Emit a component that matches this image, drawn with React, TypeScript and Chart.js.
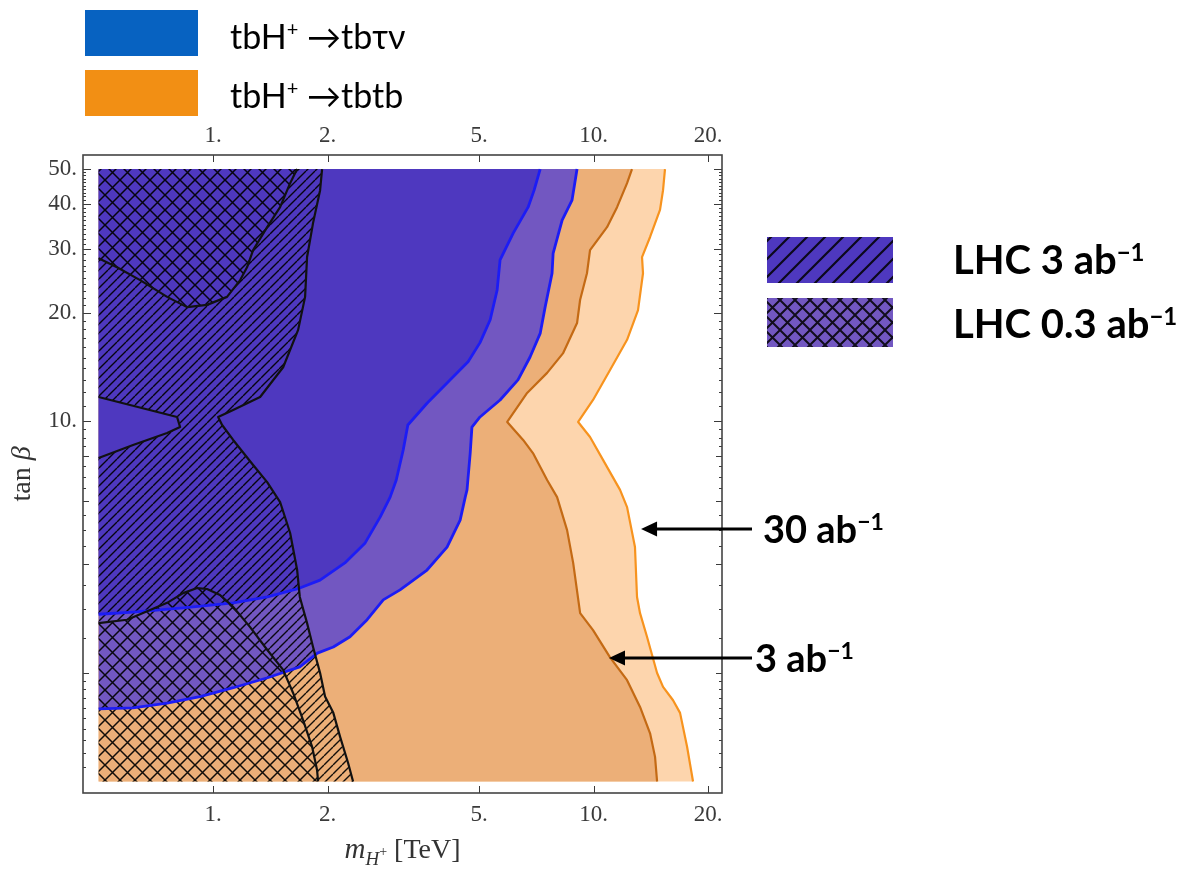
import React, { useEffect, useRef } from 'react';
import { Chart, registerables } from 'chart.js';

Chart.register(...registerables);

type P = [number, number];

// ---- axis frame (data coordinates) ----
const X_MIN = 0.455;
const X_MAX = 21.76;
const Y_MIN = 0.929;
const Y_MAX = 54.7;
const X_EDGE = 0.5;
const Y_BOTTOM = 1;
const Y_TOP = 50;

const X_TICKS = [1, 2, 5, 10, 20];
const Y_TICKS = [10, 20, 30, 40, 50];
const Y_MID_TICKS = [2, 4, 6, 8];
const Y_MINOR_TICKS = [
  1.1, 1.2, 1.3, 1.4, 1.5, 1.6, 1.7, 1.8, 1.9, 2.5, 3, 3.5, 4.5, 5, 5.5, 6.5, 7, 7.5, 8.5, 9, 9.5,
  11, 12, 13, 14, 15, 16, 17, 18, 19, 21, 22, 23, 24, 25, 26, 27, 28, 29,
  31, 32, 33, 34, 35, 36, 37, 38, 39, 41, 42, 43, 44, 45, 46, 47, 48, 49,
];

// ---- contour boundaries (m_H+ [TeV], tan beta) ----
// tbH+ -> tbtb, 30 ab^-1 (light orange)
const LIGHT_ORANGE: P[] = [
  [15.41, 50], [15.23, 43.7], [14.95, 38.5], [14.08, 32.4], [13.41, 28.5], [13.49, 25.7], [13.09, 20.3],
  [12.25, 16.8], [11.05, 13.85], [9.97, 11.44], [9.11, 9.94], [9.79, 9.03], [10.59, 7.8], [11.74, 6.44],
  [12.25, 5.77], [12.85, 4.47], [13.01, 3.25], [13.25, 2.93], [13.82, 2.52], [14.69, 2.0], [15.23, 1.83],
  [16.18, 1.68], [16.88, 1.55], [17.61, 1.25], [18.26, 1],
];
// tbH+ -> tbtb, 3 ab^-1 (dark orange)
const DARK_ORANGE: P[] = [
  [12.62, 50], [12.25, 45.7], [11.53, 39.2], [10.85, 34.5], [9.79, 29.8], [9.61, 25.7], [9.22, 21.7],
  [9.05, 18.7], [8.31, 15.4], [7.55, 13.6], [6.69, 11.96], [5.93, 9.94], [6.53, 8.86], [6.93, 8.15],
  [7.55, 6.86], [8.02, 6.15], [8.52, 4.98], [8.84, 4.04], [9.22, 2.93], [9.97, 2.63], [11.05, 2.21],
  [12.25, 1.91], [13.25, 1.61], [14.08, 1.36], [14.51, 1.17], [14.69, 1],
];
// tbH+ -> tb tau nu, 30 ab^-1 (light purple)
const OUTER_BLUE: P[] = [
  [9.05, 50], [8.78, 41.0], [8.27, 36.1], [7.83, 29.2], [7.78, 25.7], [7.46, 20.7], [7.24, 17.5],
  [6.81, 15.05], [6.33, 13.0], [5.68, 11.44], [5.03, 10.26], [4.79, 9.62], [4.74, 8.15], [4.65, 6.44],
  [4.6, 6.15], [4.46, 5.31], [4.12, 4.47], [3.65, 3.86], [3.1, 3.4], [2.8, 3.19], [2.54, 2.81],
  [2.29, 2.52], [2.07, 2.36], [1.88, 2.27], [1.69, 2.08], [1.39, 1.94], [1.13, 1.82], [0.924, 1.72],
  [0.757, 1.65], [0.616, 1.6], [0.5, 1.59],
];
// tbH+ -> tb tau nu, 3 ab^-1 (dark purple)
const INNER_BLUE: P[] = [
  [7.24, 50], [6.98, 43.7], [6.73, 39.2], [6.15, 33.2], [5.68, 28.0], [5.58, 23.1], [5.35, 19.1],
  [5.03, 16.5], [4.68, 14.6], [4.12, 12.75], [3.65, 11.2], [3.25, 9.75], [3.16, 8.31], [3.03, 6.86],
  [2.92, 6.15], [2.75, 5.42], [2.51, 4.59], [2.22, 4.04], [1.91, 3.62], [1.69, 3.44], [1.39, 3.25],
  [1.13, 3.13], [0.834, 3.03], [0.616, 2.95], [0.5, 2.91],
];
// LHC 0.3 ab^-1 (cross hatched), upper region
const CROSS_TOP: P[] = [
  [0.5, 28.3], [0.559, 26.7], [0.643, 24.6], [0.757, 22.1], [0.854, 20.7], [0.964, 21.0], [1.088, 22.1],
  [1.178, 24.6], [1.228, 26.7], [1.274, 29.8], [1.387, 34.5], [1.5, 39.2], [1.594, 45.7], [1.663, 50],
];
// LHC 0.3 ab^-1 (cross hatched), lower region
const CROSS_BOTTOM: P[] = [
  [0.5, 2.75], [0.594, 2.81], [0.683, 2.99], [0.757, 3.13], [0.834, 3.33], [0.908, 3.44], [0.964, 3.42],
  [1.043, 3.29], [1.129, 3.05], [1.251, 2.68], [1.387, 2.32], [1.528, 2.04], [1.623, 1.76], [1.724, 1.48],
  [1.82, 1.25], [1.876, 1.076], [1.888, 1],
];
// LHC 3 ab^-1 (hatched), right boundary
const HATCH_RIGHT: P[] = [
  [1.934, 50], [1.911, 43.7], [1.831, 35.4], [1.766, 28.5], [1.745, 22.1], [1.673, 17.9], [1.528, 14.1],
  [1.329, 11.66], [1.129, 10.73], [1.031, 10.26], [1.056, 9.75], [1.129, 8.86], [1.274, 7.55],
  [1.387, 6.77], [1.5, 5.96], [1.594, 4.89], [1.663, 3.86], [1.69, 3.25], [1.766, 2.75], [1.831, 2.36],
  [1.911, 2.0], [1.969, 1.72], [2.07, 1.55], [2.157, 1.33], [2.264, 1.125], [2.333, 1],
];
// LHC 3 ab^-1 (hatched), excluded wedge on the left edge
const WEDGE: P[] = [
  [0.5, 11.66], [0.804, 10.26], [0.819, 9.62], [0.757, 9.26], [0.616, 8.58], [0.5, 7.9],
];
// arrow tips for the 30 ab^-1 and 3 ab^-1 annotations
const ARROW_TIPS: P[] = [[13.33, 5.02], [10.98, 2.2]];

// ---- filled areas built from the boundaries ----
const LIGHT_ORANGE_AREA: P[] = [[X_EDGE, Y_TOP], ...LIGHT_ORANGE, [X_EDGE, Y_BOTTOM]];
const DARK_ORANGE_AREA: P[] = [[X_EDGE, Y_TOP], ...DARK_ORANGE, [X_EDGE, Y_BOTTOM]];
const OUTER_BLUE_AREA: P[] = [[X_EDGE, Y_TOP], ...OUTER_BLUE];
const INNER_BLUE_AREA: P[] = [[X_EDGE, Y_TOP], ...INNER_BLUE];
const HATCH_AREA: P[] = [...CROSS_TOP, ...HATCH_RIGHT, ...[...CROSS_BOTTOM].reverse(), ...[...WEDGE].reverse()];
const CROSS_TOP_AREA: P[] = [...CROSS_TOP, [X_EDGE, Y_TOP]];
const CROSS_BOTTOM_AREA: P[] = [...CROSS_BOTTOM, [X_EDGE, Y_BOTTOM]];

const SERIF = "'Liberation Serif', 'DejaVu Serif', serif";
const SANS = "Lato, 'Open Sans', 'DejaVu Sans', sans-serif";

const pts = (a: P[]) => a.map(([x, y]) => ({ x, y }));

function makePattern(step: number, cross: boolean, width: number) {
  const c = document.createElement('canvas');
  c.width = step;
  c.height = step;
  const g = c.getContext('2d')!;
  g.strokeStyle = 'rgba(0,0,0,0.92)';
  g.lineWidth = width;
  g.beginPath();
  for (let k = -1; k <= 1; k++) {
    g.moveTo(k * step, step);
    g.lineTo(k * step + step, 0);
    if (cross) {
      g.moveTo(k * step, 0);
      g.lineTo(k * step + step, step);
    }
  }
  g.stroke();
  return g.createPattern(c, 'repeat')!;
}

const overlayPlugin = {
  id: 'overlay',
  afterDraw(chart: any) {
    const { ctx, chartArea: a, scales } = chart;
    const xs = scales.x;
    const ys = scales.y;
    ctx.save();
    ctx.strokeStyle = '#3a3a3a';
    ctx.lineWidth = 1;
    const seg = (x1: number, y1: number, x2: number, y2: number) => {
      ctx.beginPath();
      ctx.moveTo(x1, y1);
      ctx.lineTo(x2, y2);
      ctx.stroke();
    };
    for (const v of X_TICKS) {
      const px = Math.round(xs.getPixelForValue(v)) + 0.5;
      seg(px, a.bottom, px, a.bottom - 7);
      seg(px, a.top, px, a.top + 7);
    }
    const yt = (list: number[], len: number) => {
      for (const v of list) {
        const py = Math.round(ys.getPixelForValue(v)) + 0.5;
        seg(a.left, py, a.left + len, py);
        seg(a.right, py, a.right - len, py);
      }
    };
    yt(Y_TICKS, 8);
    yt(Y_MID_TICKS, 6);
    yt(Y_MINOR_TICKS, 3);
    // frame
    ctx.lineWidth = 1.6;
    ctx.strokeStyle = '#444';
    ctx.strokeRect(a.left, a.top, a.right - a.left, a.bottom - a.top);

    // annotation arrows
    ctx.strokeStyle = '#000';
    ctx.fillStyle = '#000';
    ctx.lineWidth = 3;
    for (const [vx, vy] of ARROW_TIPS) {
      const tx = xs.getPixelForValue(vx);
      const ty = ys.getPixelForValue(vy);
      const tail = a.right + 30;
      seg(tail, ty, tx + 12, ty);
      ctx.beginPath();
      ctx.moveTo(tx, ty);
      ctx.lineTo(tx + 16, ty - 7.5);
      ctx.lineTo(tx + 16, ty + 7.5);
      ctx.closePath();
      ctx.fill();
    }

    // axis titles
    ctx.fillStyle = '#333';
    ctx.textBaseline = 'alphabetic';
    ctx.textAlign = 'left';
    // y title: tan beta
    ctx.save();
    ctx.translate(30, (a.top + a.bottom) / 2);
    ctx.rotate(-Math.PI / 2);
    ctx.font = `28px ${SERIF}`;
    const w1 = ctx.measureText('tan ').width;
    ctx.font = `italic 28px ${SERIF}`;
    const w2 = ctx.measureText('β').width;
    const s0 = -(w1 + w2) / 2;
    ctx.font = `28px ${SERIF}`;
    ctx.fillText('tan ', s0, 0);
    ctx.font = `italic 28px ${SERIF}`;
    ctx.fillText('β', s0 + w1, 0);
    ctx.restore();
    // x title: m_{H+} [TeV]
    const fM = `italic 29px ${SERIF}`;
    const fH = `italic 19px ${SERIF}`;
    const fP = `14px ${SERIF}`;
    const fT = `28px ${SERIF}`;
    ctx.font = fM;
    const wM = ctx.measureText('m').width;
    ctx.font = fH;
    const wH = ctx.measureText('H').width;
    ctx.font = fP;
    const wP = ctx.measureText('+').width;
    ctx.font = fT;
    const wT = ctx.measureText(' [TeV]').width;
    const total = wM + wH + wP + wT;
    const x0 = (a.left + a.right) / 2 - total / 2;
    const base = a.bottom + 65;
    ctx.font = fM;
    ctx.fillText('m', x0, base);
    ctx.font = fH;
    ctx.fillText('H', x0 + wM, base + 7);
    ctx.font = fP;
    ctx.fillText('+', x0 + wM + wH, base - 2);
    ctx.font = fT;
    ctx.fillText(' [TeV]', x0 + wM + wH + wP, base);
    ctx.restore();
  },
};

export default function App() {
  const ref = useRef<HTMLCanvasElement>(null);

  useEffect(() => {
    const canvas = ref.current;
    if (!canvas) return;
    const hatch = makePattern(9, false, 1.4);
    const cross = makePattern(15, true, 1.5);

    const area = (label: string, data: P[], bg: any, order: number) => ({
      label,
      data: pts(data),
      backgroundColor: bg,
      borderWidth: 0,
      fill: 'shape',
      pointRadius: 0,
      tension: 0,
      order,
    });
    const line = (label: string, data: P[], color: string, width: number, order: number) => ({
      label,
      data: pts(data),
      borderColor: color,
      borderWidth: width,
      borderJoinStyle: 'round',
      fill: false,
      pointRadius: 0,
      tension: 0,
      order,
    });

    const tickFont = { family: SERIF, size: 23 };
    const chart = new Chart(canvas, {
      type: 'line',
      data: {
        datasets: [
          area('tbtb 30 ab-1', LIGHT_ORANGE_AREA, '#fdd5ad', 30),
          area('tbtb 3 ab-1', DARK_ORANGE_AREA, '#ecaf78', 29),
          area('tbτν 30 ab-1', OUTER_BLUE_AREA, '#7257c1', 28),
          area('tbτν 3 ab-1', INNER_BLUE_AREA, '#4e38bf', 27),
          area('LHC 3 ab-1', HATCH_AREA, hatch, 26),
          area('LHC 0.3 ab-1 (upper)', CROSS_TOP_AREA, cross, 25),
          area('LHC 0.3 ab-1 (lower)', CROSS_BOTTOM_AREA, cross, 24),
          line('tbtb 30 ab-1 line', LIGHT_ORANGE, '#f7931e', 2.2, 10),
          line('tbtb 3 ab-1 line', DARK_ORANGE, '#c46a14', 2.2, 9),
          line('tbτν 30 ab-1 line', OUTER_BLUE, '#1c1cf5', 2.8, 8),
          line('tbτν 3 ab-1 line', INNER_BLUE, '#1c1cf5', 2.8, 7),
          line('LHC 0.3 upper line', CROSS_TOP, '#111', 2.2, 5),
          line('LHC 0.3 lower line', CROSS_BOTTOM, '#111', 2.2, 4),
          line('LHC 3 line', HATCH_RIGHT, '#111', 2.2, 3),
          line('LHC 3 wedge line', WEDGE, '#111', 2.2, 2),
        ] as any,
      },
      options: {
        responsive: false,
        animation: false,
        devicePixelRatio: 1,
        events: [],
        layout: { padding: { left: 0, top: 0, right: 476, bottom: 0 } },
        plugins: { legend: { display: false }, tooltip: { enabled: false } },
        elements: { point: { radius: 0 } },
        scales: {
          x: {
            type: 'logarithmic',
            position: 'bottom',
            min: X_MIN,
            max: X_MAX,
            afterBuildTicks: (s: any) => {
              s.ticks = X_TICKS.map((v) => ({ value: v }));
            },
            afterFit: (s: any) => {
              s.height = 81;
              s.paddingLeft = 0;
              s.paddingRight = 0;
            },
            ticks: {
              callback: (v: any) => `${v}.`,
              font: tickFont,
              color: '#3a3a3a',
              padding: 8,
              autoSkip: false,
              maxRotation: 0,
              minRotation: 0,
            },
            grid: { display: false, drawTicks: false },
            border: { display: false },
          },
          xTop: {
            type: 'logarithmic',
            position: 'top',
            axis: 'x',
            min: X_MIN,
            max: X_MAX,
            afterBuildTicks: (s: any) => {
              s.ticks = X_TICKS.map((v) => ({ value: v }));
            },
            afterFit: (s: any) => {
              s.height = 155;
              s.paddingLeft = 0;
              s.paddingRight = 0;
            },
            ticks: {
              callback: (v: any) => `${v}.`,
              font: tickFont,
              color: '#3a3a3a',
              padding: 5,
              autoSkip: false,
              maxRotation: 0,
              minRotation: 0,
            },
            grid: { display: false, drawTicks: false },
            border: { display: false },
          },
          y: {
            type: 'logarithmic',
            position: 'left',
            min: Y_MIN,
            max: Y_MAX,
            afterBuildTicks: (s: any) => {
              s.ticks = Y_TICKS.map((v) => ({ value: v }));
            },
            afterFit: (s: any) => {
              s.width = 83;
              s.paddingTop = 0;
              s.paddingBottom = 0;
            },
            ticks: {
              callback: (v: any) => `${v}.`,
              font: tickFont,
              color: '#3a3a3a',
              padding: 6,
              autoSkip: false,
            },
            grid: { display: false, drawTicks: false },
            border: { display: false },
          },
        },
      } as any,
      plugins: [overlayPlugin],
    });
    return () => chart.destroy();
  }, []);

  return (
    <div
      style={{
        position: 'fixed',
        left: 0,
        top: 0,
        width: 1198,
        height: 874,
        background: '#fff',
        overflow: 'hidden',
      }}
    >
      <canvas
        ref={ref}
        width={1198}
        height={874}
        style={{ position: 'absolute', left: 0, top: 0, width: 1198, height: 874 }}
      />
      <svg
        width={1198}
        height={874}
        style={{ position: 'absolute', left: 0, top: 0, pointerEvents: 'none' }}
      >
        <defs>
          <pattern id="legHatch" width="18" height="18" patternUnits="userSpaceOnUse">
            <path d="M0,18 L18,0 M-9,9 L9,-9 M9,27 L27,9" stroke="#000" strokeOpacity="0.85" strokeWidth="2.2" />
          </pattern>
          <pattern id="legCross" width="15" height="15" patternUnits="userSpaceOnUse">
            <path
              d="M0,15 L15,0 M-7.5,7.5 L7.5,-7.5 M7.5,22.5 L22.5,7.5 M0,0 L15,15 M-7.5,7.5 L7.5,22.5 M7.5,-7.5 L22.5,7.5"
              stroke="#000"
              strokeOpacity="0.85"
              strokeWidth="2"
            />
          </pattern>
        </defs>
        {/* channel legend */}
        <rect x={85} y={10} width={113} height={46} fill="#0762c1" />
        <rect x={85} y={70} width={113} height={46} fill="#f28f14" />
        <text x={230} y={49} fontFamily={SANS} fontSize={34} fill="#000">
          tbH<tspan dy={-13} fontSize={20}>+</tspan>
          <tspan dy={13}>{' →tbτν'}</tspan>
        </text>
        <text x={230} y={108} fontFamily={SANS} fontSize={34} fill="#000">
          tbH<tspan dy={-13} fontSize={20}>+</tspan>
          <tspan dy={13}>{' →tbtb'}</tspan>
        </text>
        {/* luminosity legend */}
        <rect x={767} y={237} width={126} height={46} fill="#4e38bf" />
        <rect x={767} y={237} width={126} height={46} fill="url(#legHatch)" />
        <rect x={767} y={298} width={126} height={49} fill="#7257c1" />
        <rect x={767} y={298} width={126} height={49} fill="url(#legCross)" />
        <text x={953} y={274} fontFamily={SANS} fontWeight={700} fontSize={40} fill="#000">
          LHC 3 ab<tspan dy={-13} fontSize={24}>−1</tspan>
        </text>
        <text x={953} y={338} fontFamily={SANS} fontWeight={700} fontSize={40} fill="#000">
          LHC 0.3 ab<tspan dy={-13} fontSize={24}>−1</tspan>
        </text>
        {/* arrow labels */}
        <text x={763} y={543} fontFamily={SANS} fontWeight={700} fontSize={38} fill="#000">
          30 ab<tspan dy={-13} fontSize={23}>−1</tspan>
        </text>
        <text x={755} y={672} fontFamily={SANS} fontWeight={700} fontSize={38} fill="#000">
          3 ab<tspan dy={-13} fontSize={23}>−1</tspan>
        </text>
      </svg>
    </div>
  );
}
